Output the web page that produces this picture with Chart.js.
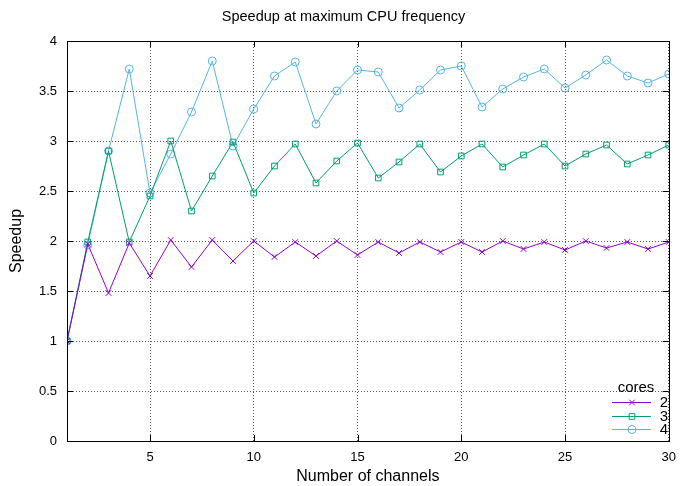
<!DOCTYPE html>
<html lang="en">
<head>
  <meta charset="UTF-8" />
  <title>Speedup at maximum CPU frequency</title>
  <script src="https://cdn.jsdelivr.net/npm/chart.js"></script>
  <style>
    html, body { margin: 0; padding: 0; background: #fff; }
    canvas { display: block; }
  </style>
</head>
<body>
  <canvas id="speedup" width="685" height="486"></canvas>
  <script>
    // number of channels 1..30
    const channels = [1, 2, 3, 4, 5, 6, 7, 8, 9, 10, 11, 12, 13, 14, 15,
                      16, 17, 18, 19, 20, 21, 22, 23, 24, 25, 26, 27, 28, 29, 30];
    const cores2 = [1.00, 1.97, 1.48, 1.98, 1.65, 2.01, 1.74, 2.01, 1.80, 2.00,
                    1.84, 1.99, 1.85, 2.00, 1.86, 1.99, 1.88, 1.99, 1.89, 1.99,
                    1.89, 2.00, 1.92, 1.99, 1.91, 2.00, 1.93, 1.99, 1.92, 1.99];
    const cores3 = [1.00, 1.99, 2.90, 1.99, 2.45, 3.00, 2.30, 2.65, 2.99, 2.48,
                    2.75, 2.97, 2.58, 2.80, 2.98, 2.63, 2.79, 2.97, 2.69, 2.85,
                    2.97, 2.74, 2.86, 2.97, 2.75, 2.87, 2.96, 2.77, 2.86, 2.96];
    const cores4 = [1.00, 1.96, 2.90, 3.72, 2.48, 2.87, 3.29, 3.80, 2.95, 3.32,
                    3.65, 3.79, 3.17, 3.50, 3.71, 3.69, 3.33, 3.51, 3.71, 3.75,
                    3.34, 3.52, 3.64, 3.72, 3.53, 3.66, 3.81, 3.65, 3.58, 3.67];
    const xTicks = [5, 10, 15, 20, 25, 30];
    const chartTitle = 'Speedup at maximum CPU frequency';
    const legendTitle = 'cores';

    const FONT = '"Liberation Sans", Arial, Helvetica, sans-serif';
    const toXY = ys => ys.map((y, i) => ({ x: channels[i], y }));

    const series = [
      { label: '2', data: cores2, color: '#9400d3', style: 'crossRot' },
      { label: '3', data: cores3, color: '#009e73', style: 'rect' },
      { label: '4', data: cores4, color: '#56b4e9', style: 'circle' }
    ];

    // gnuplot-like frame: full border with inward ticks on all four sides,
    // plus the title centred on the whole canvas
    const framePlugin = {
      id: 'frame',
      afterDatasetsDraw(chart) {
        const { ctx, chartArea: a, scales, width } = chart;
        ctx.save();
        ctx.strokeStyle = '#000';
        ctx.lineWidth = 1;
        ctx.strokeRect(Math.round(a.left) + 0.5, Math.round(a.top) + 0.5,
                       Math.round(a.right - a.left), Math.round(a.bottom - a.top));
        ctx.beginPath();
        scales.y.ticks.forEach(t => {
          const y = Math.round(scales.y.getPixelForValue(t.value)) + 0.5;
          ctx.moveTo(a.left, y); ctx.lineTo(a.left + 6, y);
          ctx.moveTo(a.right, y); ctx.lineTo(a.right - 6, y);
        });
        scales.x.ticks.forEach(t => {
          const x = Math.round(scales.x.getPixelForValue(t.value)) + 0.5;
          ctx.moveTo(x, a.bottom); ctx.lineTo(x, a.bottom - 6);
          ctx.moveTo(x, a.top); ctx.lineTo(x, a.top + 6);
        });
        ctx.stroke();

        ctx.fillStyle = '#000';
        ctx.font = '14.5px ' + FONT;
        ctx.textAlign = 'center';
        ctx.textBaseline = 'middle';
        ctx.fillText(chartTitle, width / 2 + 1, 17);
        ctx.restore();
      }
    };

    // key in the lower right corner: title, then line sample + marker + label
    const keyPlugin = {
      id: 'key',
      afterDatasetsDraw(chart) {
        const { ctx } = chart;
        ctx.save();
        ctx.font = '15px ' + FONT;
        ctx.fillStyle = '#000';
        ctx.textBaseline = 'middle';
        ctx.textAlign = 'center';
        ctx.fillText(legendTitle, 636, 388);
        chart.data.datasets.forEach((ds, i) => {
          const y = Math.round(402 + i * 13.7) + 0.5;
          ctx.strokeStyle = ds.borderColor;
          ctx.lineWidth = 1;
          ctx.beginPath();
          ctx.moveTo(612, y);
          ctx.lineTo(651, y);
          ctx.stroke();
          ctx.fillStyle = 'rgba(0,0,0,0)';
          Chart.helpers.drawPoint(ctx, {
            pointStyle: ds.pointStyle, radius: 4, rotation: 0, borderWidth: 1
          }, 632, y);
          ctx.fillStyle = '#000';
          ctx.textAlign = 'right';
          ctx.fillText(ds.label, 668, y);
        });
        ctx.restore();
      }
    };

    const gridStyle = {
      color: 'rgba(0,0,0,0.65)',
      drawTicks: false,
      lineWidth: 1
    };
    const dotted = { display: false, dash: [1, 2] };

    new Chart(document.getElementById('speedup'), {
      type: 'line',
      data: {
        datasets: series.map(s => ({
          label: s.label,
          data: toXY(s.data),
          borderColor: s.color,
          backgroundColor: 'rgba(0,0,0,0)',
          pointBorderColor: s.color,
          pointBackgroundColor: 'rgba(0,0,0,0)',
          pointStyle: s.style,
          pointRadius: 4,
          pointBorderWidth: 1,
          borderWidth: 1,
          tension: 0
        }))
      },
      options: {
        responsive: false,
        animation: false,
        layout: { padding: { left: 0, right: 9, top: 41, bottom: 0 } },
        plugins: {
          legend: { display: false },
          tooltip: { enabled: false },
          title: { display: false }
        },
        scales: {
          x: {
            type: 'linear',
            min: 1,
            max: 30,
            afterBuildTicks: s => { s.ticks = xTicks.map(v => ({ value: v })); },
            afterFit: s => { s.height = 45; },
            grid: gridStyle,
            border: dotted,
            ticks: {
              color: '#000',
              padding: 9,
              maxRotation: 0,
              font: { family: FONT, size: 13 }
            },
            title: {
              display: true,
              text: 'Number of channels',
              color: '#000',
              font: { family: FONT, size: 16, lineHeight: 1.2 },
              padding: { top: 0, bottom: 0 }
            }
          },
          y: {
            min: 0,
            max: 4,
            afterFit: s => { s.width = 67; },
            grid: gridStyle,
            border: dotted,
            ticks: {
              stepSize: 0.5,
              color: '#000',
              padding: 10,
              font: { family: FONT, size: 13 },
              callback: v => String(v)
            },
            title: {
              display: true,
              text: 'Speedup',
              color: '#000',
              font: { family: FONT, size: 16, lineHeight: 1.2 },
              padding: { top: 7, bottom: 0 }
            }
          }
        }
      },
      plugins: [framePlugin, keyPlugin]
    });
  </script>
</body>
</html>
